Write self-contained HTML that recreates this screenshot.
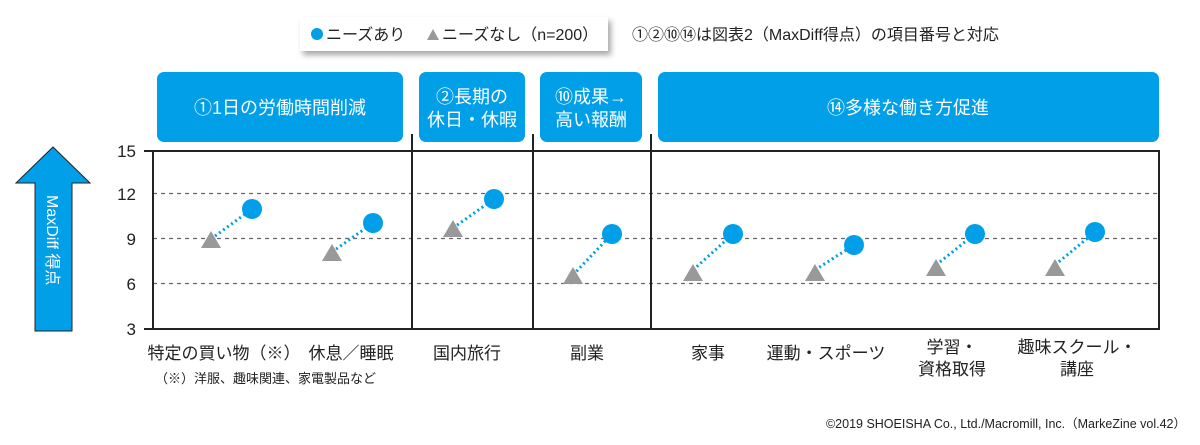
<!DOCTYPE html>
<html><head><meta charset="utf-8"><style>
html,body{margin:0;padding:0;background:#fff;}
svg{display:block;font-family:"Liberation Sans","Noto Sans CJK JP",sans-serif;}
</style></head><body>
<svg width="1200" height="445" viewBox="0 0 1200 445" xmlns="http://www.w3.org/2000/svg">
<defs><filter id="sh" x="-10%" y="-30%" width="125%" height="180%"><feDropShadow dx="3" dy="4" stdDeviation="3" flood-color="#000" flood-opacity="0.35"/></filter></defs>
<!-- legend -->
<rect x="300" y="17" width="308" height="34" fill="#fff" filter="url(#sh)"/>
<circle cx="317" cy="34" r="6" fill="#009fe8"/>
<text x="326" y="40" font-size="16" fill="#222">ニーズあり</text>
<polygon points="427,40 433,29 439,40" fill="#999"/>
<text x="442" y="40" font-size="16" fill="#222">ニーズなし（n=200）</text>
<text x="632" y="40" font-size="16" fill="#222">①②⑩⑭は図表2（MaxDiff得点）の項目番号と対応</text>
<!-- header boxes -->
<g fill="#009fe8">
<rect x="157" y="72" width="246" height="70" rx="7"/>
<rect x="419" y="72" width="106" height="70" rx="7"/>
<rect x="540" y="72" width="102" height="70" rx="7"/>
<rect x="658" y="72" width="501" height="70" rx="7"/>
</g>
<g fill="#fff" font-size="18" text-anchor="middle">
<text x="280" y="114">①1日の労働時間削減</text>
<text x="472" y="103">②長期の</text><text x="472" y="126">休日・休暇</text>
<text x="591" y="103">⑩成果→</text><text x="591" y="126">高い報酬</text>
<text x="908" y="114">⑭多様な働き方促進</text>
</g>
<!-- arrow -->
<polygon points="53,147 90,183 72,183 72,331 35,331 35,183 16,183" fill="#009fe8" stroke="#222" stroke-width="1"/>
<text transform="translate(47,195) rotate(90)" font-size="16" fill="#fff">MaxDiff 得点</text>
<!-- grid -->
<g stroke="#666" stroke-width="1.2" stroke-dasharray="4,4">
<line x1="153" y1="193.5" x2="1159" y2="193.5"/>
<line x1="153" y1="238.5" x2="1159" y2="238.5"/>
<line x1="153" y1="283.5" x2="1159" y2="283.5"/>
</g>
<g stroke="#222" stroke-width="2" fill="none">
<rect x="153" y="151" width="1006" height="178"/>
<line x1="412" y1="134" x2="412" y2="329"/>
<line x1="533" y1="134" x2="533" y2="329"/>
<line x1="651" y1="134" x2="651" y2="329"/>
<line x1="144" y1="151" x2="153" y2="151"/>
<line x1="144" y1="329" x2="153" y2="329"/>
</g>
<g font-size="17" fill="#222" text-anchor="end">
<text x="136" y="157">15</text><text x="136" y="200">12</text><text x="136" y="245">9</text><text x="136" y="290">6</text><text x="136" y="335">3</text>
</g>
<!-- data -->
<g stroke="#009fe8" stroke-width="3" stroke-dasharray="2,3">
<line x1="211" y1="239" x2="252" y2="209"/>
<line x1="332" y1="252" x2="373" y2="223"/>
<line x1="453" y1="228" x2="494" y2="199"/>
<line x1="573" y1="275" x2="612" y2="234"/>
<line x1="693" y1="270" x2="733" y2="234"/>
<line x1="815" y1="270" x2="854" y2="245"/>
<line x1="936" y1="265" x2="975" y2="234"/>
<line x1="1055" y1="265" x2="1095" y2="232"/>
</g>
<g fill="#999">
<polygon points="201,248 211,231 221,248"/>
<polygon points="322,261 332,244 342,261"/>
<polygon points="443,237 453,220 463,237"/>
<polygon points="563,284 573,267 583,284"/>
<polygon points="683,281 693,264 703,281"/>
<polygon points="805,281 815,264 825,281"/>
<polygon points="926,276 936,259 946,276"/>
<polygon points="1045,276 1055,259 1065,276"/>
</g>
<g fill="#009fe8">
<circle cx="252" cy="209" r="10"/><circle cx="373" cy="223" r="10"/><circle cx="494" cy="199" r="10"/><circle cx="612" cy="234" r="10"/>
<circle cx="733" cy="234" r="10"/><circle cx="854" cy="245" r="10"/><circle cx="975" cy="234" r="10"/><circle cx="1095" cy="232" r="10"/>
</g>
<!-- category labels -->
<g font-size="17" fill="#222" text-anchor="middle">
<text x="224" y="359">特定の買い物（※）</text>
<text x="351" y="359">休息／睡眠</text>
<text x="467" y="359">国内旅行</text>
<text x="587" y="359">副業</text>
<text x="708" y="359">家事</text>
<text x="826" y="359">運動・スポーツ</text>
<text x="952" y="353">学習・</text><text x="952" y="375">資格取得</text>
<text x="1077" y="353">趣味スクール・</text><text x="1077" y="375">講座</text>
</g>
<text x="155" y="383" font-size="13" fill="#222">（※）洋服、趣味関連、家電製品など</text>
<text x="1186" y="428" font-size="12.5" fill="#222" text-anchor="end">©2019 SHOEISHA Co., Ltd./Macromill, Inc.（MarkeZine vol.42）</text>
</svg>
</body></html>
